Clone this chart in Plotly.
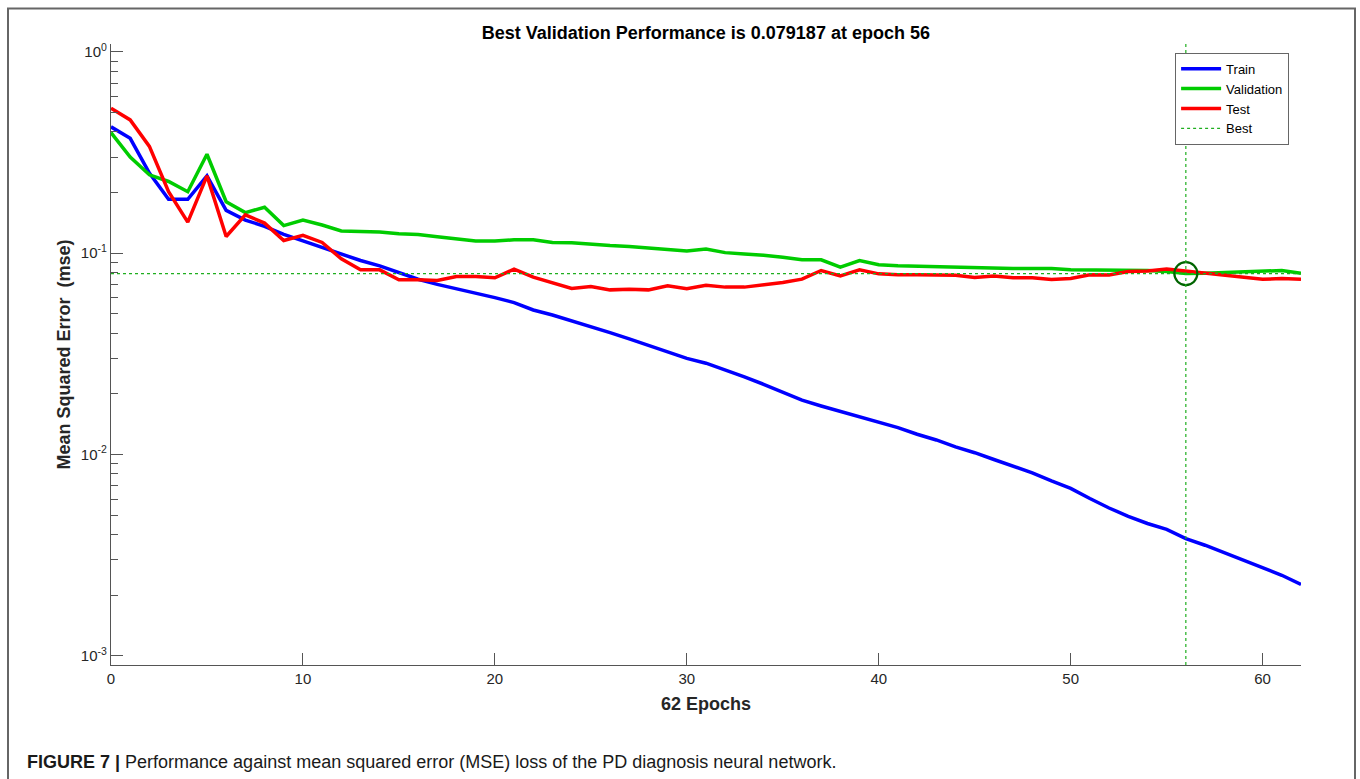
import plotly.graph_objects as go

# ---------------- data ----------------
epochs = list(range(0, 63))

train_mse = [0.424, 0.372, 0.25, 0.185, 0.185, 0.242, 0.163, 0.146, 0.136, 0.124,
             0.115, 0.107, 0.0989, 0.0919, 0.0865, 0.080, 0.0742, 0.070, 0.0667, 0.0632,
             0.0601, 0.0568, 0.0522, 0.0493, 0.0462, 0.0431, 0.0403, 0.0375, 0.0347, 0.0324,
             0.0300, 0.0284, 0.0263, 0.0243, 0.0223, 0.0203, 0.0186, 0.0174, 0.0164, 0.0154,
             0.0145, 0.0136, 0.0126, 0.0118, 0.0109, 0.0102, 0.00944, 0.00875, 0.00810, 0.00739,
             0.00678, 0.00604, 0.00542, 0.00493, 0.00454, 0.00424, 0.00382, 0.00354, 0.00325, 0.00298,
             0.00273, 0.00251, 0.00226]

validation_mse = [0.397, 0.300, 0.245, 0.227, 0.202, 0.310, 0.180, 0.159, 0.169, 0.137,
                  0.146, 0.138, 0.129, 0.128, 0.1275, 0.1247, 0.1237, 0.1205, 0.118, 0.115,
                  0.1149, 0.1164, 0.1164, 0.113, 0.1125, 0.1104, 0.109, 0.108, 0.106, 0.1045,
                  0.1026, 0.1048, 0.1006, 0.0989, 0.0977, 0.0955, 0.0927, 0.0927, 0.0852, 0.0919,
                  0.0875, 0.0865, 0.086, 0.0852, 0.0852, 0.0843, 0.0845, 0.084, 0.084, 0.0838,
                  0.0826, 0.0825, 0.082, 0.0815, 0.082, 0.081, 0.079187, 0.0795, 0.0803, 0.081,
                  0.0815, 0.082, 0.0795]

test_mse = [0.525, 0.459, 0.339, 0.202, 0.1425, 0.242, 0.121, 0.155, 0.141, 0.1155,
            0.1225, 0.113, 0.0937, 0.0826, 0.0826, 0.0738, 0.0738, 0.0732, 0.0765, 0.0765,
            0.0754, 0.0833, 0.076, 0.0715, 0.0667, 0.0683, 0.0657, 0.0662, 0.0657, 0.0689,
            0.0665, 0.0693, 0.0678, 0.0678, 0.0693, 0.0715, 0.0743, 0.082, 0.0771, 0.0826,
            0.0789, 0.078, 0.078, 0.078, 0.0776, 0.0757, 0.077, 0.0755, 0.0755, 0.074,
            0.0748, 0.078, 0.0778, 0.081, 0.0815, 0.0833, 0.0815, 0.0795, 0.078, 0.0758,
            0.0742, 0.0748, 0.0742]

best_epoch = 56
best_perf = 0.079187
n_epochs = 62

y_tick_vals = [0.001, 0.01, 0.1, 1]
y_tick_text = ["10<sup>-3</sup>", "10<sup>-2</sup>", "10<sup>-1</sup>", "10<sup>0</sup>"]
y_minor_vals = [k * 10.0 ** d for d in (-3, -2, -1) for k in range(2, 10)]
x_tick_vals = [0, 10, 20, 30, 40, 50, 60]

title_text = "Best Validation Performance is %.6f at epoch %d" % (best_perf, best_epoch)
caption_text = ("<b>FIGURE 7 |</b> Performance against mean squared error (MSE) loss "
                "of the PD diagnosis neural network.")

# ---------------- figure ----------------
FONT = "Liberation Sans, Arial, sans-serif"
AX = "#555555"
BEST_C = "#1fae1f"

fig = go.Figure()

fig.add_trace(go.Scatter(x=epochs, y=train_mse, mode="lines", name="Train",
                         line=dict(color="#0000ff", width=3.5)))
fig.add_trace(go.Scatter(x=epochs, y=validation_mse, mode="lines", name="Validation",
                         line=dict(color="#00cc00", width=3.5)))
fig.add_trace(go.Scatter(x=epochs, y=test_mse, mode="lines", name="Test",
                         line=dict(color="#ff0000", width=3.5)))
fig.add_trace(go.Scatter(x=[0, n_epochs], y=[best_perf, best_perf], mode="lines", name="Best",
                         line=dict(color=BEST_C, width=1.2, dash="dot")))
fig.add_trace(go.Scatter(x=[best_epoch], y=[best_perf], mode="markers", showlegend=False,
                         marker=dict(symbol="circle-open", size=23, color="#006400",
                                     line=dict(width=2.2, color="#006400"))))

fig.add_vline(x=best_epoch, line=dict(color=BEST_C, width=1.2, dash="dot"))

fig.update_layout(
    width=1360, height=779,
    paper_bgcolor="white", plot_bgcolor="white",
    margin=dict(l=111, r=59, t=44, b=114),
    font=dict(family=FONT, color="#262626", size=15),
    title=dict(text="<b>" + title_text + "</b>", x=0.519, xanchor="center",
               y=1 - 33 / 779, yanchor="middle", yref="container",
               font=dict(size=18, color="#000000")),
    showlegend=True,
    legend=dict(x=0.99, xanchor="right", y=0.986, yanchor="top",
                bgcolor="white", bordercolor="#666666", borderwidth=1,
                font=dict(size=13, color="#000000"), tracegroupgap=0,
                itemwidth=40),
    xaxis=dict(range=[0, n_epochs], tickvals=x_tick_vals, ticks="inside", ticklen=12,
               tickcolor=AX, showline=True, linecolor=AX, linewidth=1.3,
               showgrid=False, zeroline=False, mirror=False,
               tickfont=dict(size=15, color="#262626"),
               title=dict(text="<b>62 Epochs</b>", font=dict(size=18, color="#262626"),
                          standoff=11)),
    yaxis=dict(type="log", range=[-3.046, 0.039], tickvals=y_tick_vals, ticktext=y_tick_text,
               ticks="inside", ticklen=12, tickcolor=AX, showline=True, linecolor=AX,
               linewidth=1.3, showgrid=False, zeroline=False, mirror=False,
               tickfont=dict(size=15, color="#262626"),
               minor=dict(tickvals=y_minor_vals, ticks="inside", ticklen=7, tickcolor=AX,
                          showgrid=False),
               title=dict(text="<b>Mean Squared Error  (mse)</b>",
                          font=dict(size=18, color="#262626"), standoff=5)),
)

# outer frame of the figure panel
fig.add_shape(type="rect", xref="paper", yref="paper",
              x0=(8 - 111) / 1190, x1=(1355 - 111) / 1190,
              y0=(665 - 800) / 621, y1=(665 - 8.5) / 621,
              line=dict(color="#666666", width=2), fillcolor="rgba(0,0,0,0)", layer="below")

fig.add_annotation(text=caption_text, xref="paper", yref="paper",
                   x=(25 - 111) / 1190, y=(665 - 762) / 621, xanchor="left", yanchor="middle",
                   showarrow=False, font=dict(size=18, color="#1a1a1a", family=FONT))

fig.write_html("out.html", config={"displayModeBar": False},
               post_script="document.body.style.margin='0px';document.body.style.overflow='hidden';")
